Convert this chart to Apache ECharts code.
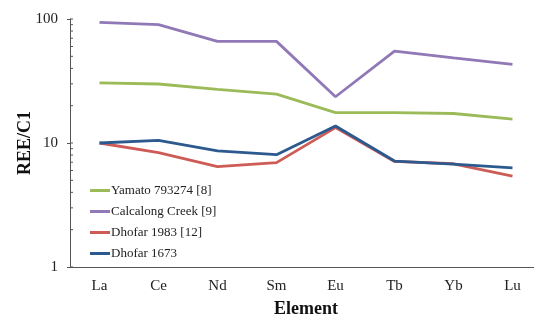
<!DOCTYPE html>
<html>
<head>
<meta charset="utf-8">
<script src="https://cdn.jsdelivr.net/npm/echarts@6/dist/echarts.min.js"></script>
<style>
  html, body { margin: 0; padding: 0; background: #fff; }
  #main { width: 534px; height: 318px; }
</style>
</head>
<body>
<div id="main"></div>
<script>
var myChart = echarts.init(document.getElementById('main'));

// REE abundances normalised to C1 chondrite
const elements = ['La', 'Ce', 'Nd', 'Sm', 'Eu', 'Tb', 'Yb', 'Lu'];
const yamato = [30.5, 29.9, 27.1, 24.8, 17.6, 17.6, 17.3, 15.6];
const calcalong = [94, 90, 66, 66, 23.6, 55, 48.5, 43];
const dhofar1983 = [10, 8.35, 6.45, 6.95, 13.3, 7.1, 6.8, 5.4];
const dhofar1673 = [10, 10.5, 8.65, 8.05, 13.7, 7.15, 6.75, 6.3];
const innerTicks = [1, 2, 3, 4, 5, 6, 7, 8, 9, 10, 20, 30, 40, 50, 60, 70, 80, 90, 100];

const font = 'Liberation Serif';

function lineSeries(name, data, color) {
    return {
        name: name,
        type: 'line',
        data: data,
        symbol: 'none',
        lineStyle: { color: color, width: 2.8 },
        itemStyle: { color: color }
    };
}

var option = {
    animation: false,
    grid: { left: 70, right: -8, top: 19, bottom: 51, outerBoundsMode: 'none', containLabel: false },
    legend: {
        orient: 'vertical',
        left: 85,
        top: 179,
        itemGap: 8,
        itemWidth: 20,
        itemHeight: 3,
        icon: 'rect',
        textStyle: { fontFamily: font, fontSize: 13, color: '#222', padding: [0, 0, 0, -4] },
        data: ['Yamato 793274 [8]', 'Calcalong Creek [9]', 'Dhofar 1983 [12]', 'Dhofar 1673']
    },
    xAxis: {
        type: 'category',
        data: elements,
        name: 'Element',
        nameLocation: 'middle',
        nameGap: 33,
        nameMoveOverlap: false,
        nameTextStyle: { fontFamily: font, fontSize: 18, fontWeight: 'bold', color: '#111' },
        axisLine: { lineStyle: { color: '#555', width: 1 } },
        axisTick: { length: 3, lineStyle: { color: '#555' } },
        axisLabel: { fontFamily: font, fontSize: 15, color: '#222', margin: 12 }
    },
    yAxis: {
        type: 'log',
        logBase: 10,
        min: 1,
        max: 100,
        name: 'REE/C1',
        nameLocation: 'middle',
        nameGap: 36,
        nameMoveOverlap: false,
        nameTextStyle: { fontFamily: font, fontSize: 18, fontWeight: 'bold', color: '#111' },
        axisLine: { show: true, lineStyle: { color: '#555', width: 1 } },
        axisTick: { show: true, length: 3, lineStyle: { color: '#555' } },
        axisLabel: { fontFamily: font, fontSize: 15, color: '#222', margin: 12 },
        splitLine: { show: false }
    },
    series: [
        lineSeries('Yamato 793274 [8]', yamato, '#9BBB59'),
        lineSeries('Calcalong Creek [9]', calcalong, '#9179B8'),
        lineSeries('Dhofar 1983 [12]', dhofar1983, '#CD5C57'),
        lineSeries('Dhofar 1673', dhofar1673, '#2D5A8E'),
        {
            // inner ticks of the log axis (2..9 in each decade)
            type: 'custom',
            silent: true,
            data: innerTicks.map(v => [0, v]),
            renderItem: function (params, api) {
                var p = api.coord([0, api.value(1)]);
                var x0 = params.coordSys.x;
                return {
                    type: 'line',
                    shape: { x1: x0, y1: p[1], x2: x0 + 3, y2: p[1] },
                    style: { stroke: '#555', lineWidth: 1 }
                };
            }
        }
    ]
};

myChart.setOption(option);
</script>
</body>
</html>
